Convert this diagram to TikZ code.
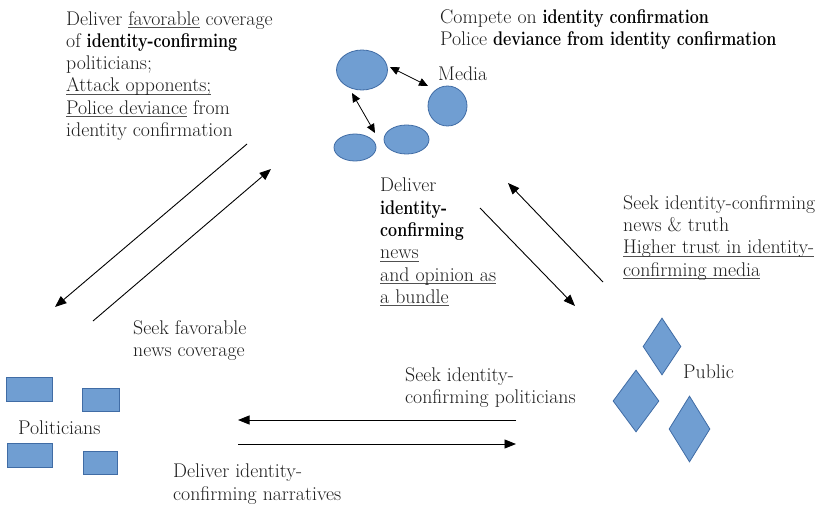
\documentclass[tikz,border=0pt]{standalone}
\usepackage{graphicx}
\usetikzlibrary{shapes.geometric,arrows.meta}
\definecolor{shfill}{RGB}{112,158,210}
\definecolor{shdraw}{RGB}{64,108,165}
\definecolor{txt}{RGB}{30,30,30}
\definecolor{ulc}{RGB}{80,80,80}
\newcommand\myul[1]{\setbox0\hbox{#1}\rlap{\color{ulc}\rule[-2.6pt]{\wd0}{0.75pt}}\box0\relax}
\newcommand\bk[1]{\scalebox{0.81}[1]{\textbf{\color{black}#1}}}
\begin{document}
\begin{tikzpicture}[x=1pt,y=-1pt,
  txtnode/.style={anchor=north west,inner sep=0pt,align=left,text=txt,font=\fontsize{19.8}{22.3}\selectfont},
  ell/.style={ellipse,draw=shdraw,fill=shfill,line width=0.8pt,inner sep=0pt},
  rectshape/.style={rectangle,draw=shdraw,fill=shfill,line width=0.8pt,inner sep=0pt},
  dia/.style={diamond,draw=shdraw,fill=shfill,line width=0.8pt,inner sep=0pt},
  flow/.style={line width=0.9pt,-{Triangle[length=11.5pt,width=9pt]}},
  link/.style={line width=0.8pt,{Triangle[length=9pt,width=8pt]}-{Triangle[length=9pt,width=8pt]}}]
\useasboundingbox (0,0) rectangle (824,505);
% media
\node[ell,minimum width=51pt,minimum height=40pt] (m1) at (362,70) {};
\node[ell,minimum width=39pt,minimum height=40pt] (m2) at (447.5,106) {};
\node[ell,minimum width=42pt,minimum height=27pt] (m3) at (355,147.5) {};
\node[ell,minimum width=45pt,minimum height=29pt] (m4) at (406.5,139.5) {};
% politicians
\node[rectshape,minimum width=46pt,minimum height=24pt] (p1) at (29,389) {};
\node[rectshape,minimum width=37pt,minimum height=23pt] (p2) at (100.5,399.5) {};
\node[rectshape,minimum width=45pt,minimum height=24pt] (p3) at (29.5,455) {};
\node[rectshape,minimum width=34pt,minimum height=23pt] (p4) at (100,462.5) {};
% public
\node[dia,minimum width=38pt,minimum height=57pt] (d1) at (662,346.5) {};
\node[dia,minimum width=46pt,minimum height=62pt] (d2) at (636,401) {};
\node[dia,minimum width=41pt,minimum height=66pt] (d3) at (689.5,429) {};
% texts
\node[txtnode] (tl) at (66,11) {Deliver \myul{favorable} coverage\\ of \bk{identity-confirming}\\ politicians;\\ \myul{Attack opponents;}\\ \myul{Police deviance} from\\ identity confirmation};
\node[txtnode,font=\fontsize{19.8}{22}\selectfont] (top) at (440,9) {Compete on \bk{identity confirmation}\\ Police \bk{deviance from identity confirmation}};
\node[txtnode] (media) at (438,67) {Media};
\node[txtnode] (ctr) at (380,178) {Deliver\\ \bk{identity-}\\ \bk{confirming}\\ \myul{news}\\ \myul{and opinion as}\\ \myul{a bundle}};
\node[txtnode] (rt) at (623,195) {Seek identity-confirming\\ news \& truth\\ \myul{Higher trust in identity-}\\ \myul{confirming media}};
\node[txtnode] (sf) at (133,320) {Seek favorable\\ news coverage};
\node[txtnode] (pol) at (18,421) {Politicians};
\node[txtnode] (pub) at (683,365) {Public};
\node[txtnode] (sip) at (405,367) {Seek identity-\\ confirming politicians};
\node[txtnode] (din) at (173,464) {Deliver identity-\\ confirming narratives};
% arrow ends
\coordinate (a1s) at (247,144); \coordinate (a1e) at (55,307);
\coordinate (a2s) at (93,321); \coordinate (a2e) at (271,169);
\coordinate (a3s) at (480,208); \coordinate (a3e) at (575,306);
\coordinate (a4s) at (603,282); \coordinate (a4e) at (508,183);
\coordinate (a5s) at (516,420); \coordinate (a5e) at (238,420);
\coordinate (a6s) at (238,444); \coordinate (a6e) at (516,444);
\coordinate (l1s) at (390,67); \coordinate (l1e) at (428,86);
\coordinate (l2s) at (352,93); \coordinate (l2e) at (375,133);
\draw[flow] (a1s) -- (a1e);
\draw[flow] (a2s) -- (a2e);
\draw[flow] (a3s) -- (a3e);
\draw[flow] (a4s) -- (a4e);
\draw[flow] (a5s) -- (a5e);
\draw[flow] (a6s) -- (a6e);
\draw[link] (l1s) -- (l1e);
\draw[link] (l2s) -- (l2e);
\end{tikzpicture}
\end{document}
